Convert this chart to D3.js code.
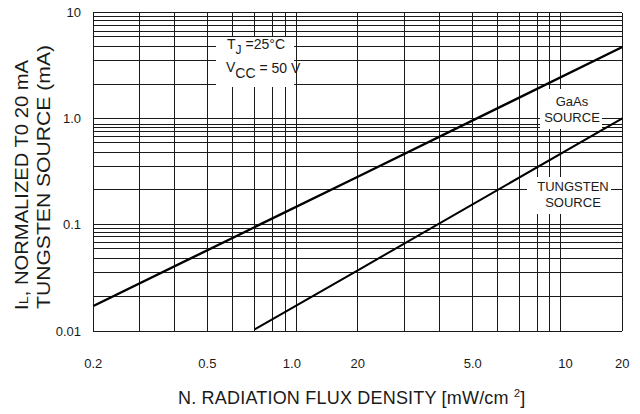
<!DOCTYPE html>
<html>
<head>
<meta charset="utf-8">
<script src="https://cdn.jsdelivr.net/npm/d3@7"></script>
<style>
  html, body { margin: 0; padding: 0; background: #fff; }
  svg { display: block; font-family: Arial, "Liberation Sans", sans-serif; }
</style>
</head>
<body>
<svg id="chart" width="640" height="414"></svg>
<script>
// ---- data ----
const xGridValues = [0.2, 0.3, 0.406, 0.54, 0.671, 0.815, 0.953, 1.064, 1.168,
                     2, 3.0, 4.08, 5.44, 6.75, 8.17, 9.58, 10.64, 11.71, 20];
const yGridValues = [0.01, 0.0212, 0.0354, 0.048, 0.0601, 0.0689, 0.0773, 0.0851, 0.0927,
                     0.1, 0.213, 0.352, 0.478, 0.593, 0.676, 0.753, 0.822, 0.885,
                     1, 2.10, 3.54, 4.80, 5.90, 6.64, 7.50, 8.49, 9.25, 10];
const xTickValues = [0.2, 0.54, 1.127, 2, 5.44, 12.2, 20];
const xTickLabels = ["0.2", "0.5", "1.0", "20", "5.0", "10", "20"];
const yTickValues = [0.01, 0.1, 1, 10];
const yTickLabels = ["0.01", "0.1", "1.0", "10"];

const gaasFlux = [0.2, 2, 20];
const gaasCurrent = [0.0172, 0.284, 4.73];
const tungstenFlux = [0.815, 2, 20];
const tungstenCurrent = [0.01038, 0.0373, 1.007];

// ---- layout ----
const svg = d3.select("#chart");
const plotLeft = 93.3, plotRight = 622.3, plotTop = 12.5, plotBottom = 331;

const x = d3.scaleLog().domain([0.2, 20]).range([plotLeft, plotRight]);
const y = d3.scaleLog().domain([0.01, 10]).range([plotBottom, plotTop]);

svg.append("rect").attr("width", 640).attr("height", 414).attr("fill", "#fff");

const grid = svg.append("g").attr("stroke", "#1a1a1a").attr("stroke-width", 1).attr("shape-rendering", "crispEdges");
grid.selectAll("line.v").data(xGridValues).join("line")
  .attr("class", "v")
  .attr("x1", d => x(d)).attr("x2", d => x(d))
  .attr("y1", y(10)).attr("y2", y(0.01));
grid.selectAll("line.h").data(yGridValues).join("line")
  .attr("class", "h")
  .attr("x1", x(0.2)).attr("x2", x(20))
  .attr("y1", d => y(d)).attr("y2", d => y(d));

// curves
const line = d3.line().x(d => x(d[0])).y(d => y(d[1]));
svg.append("path")
  .attr("d", line(gaasFlux.map((f, i) => [f, gaasCurrent[i]])))
  .attr("fill", "none").attr("stroke", "#000").attr("stroke-width", 2.4);
svg.append("path")
  .attr("d", line(tungstenFlux.map((f, i) => [f, tungstenCurrent[i]])))
  .attr("fill", "none").attr("stroke", "#000").attr("stroke-width", 2);

// annotation boxes (white masks over grid)
svg.append("rect").attr("x", 216).attr("y", 37).attr("width", 78).attr("height", 50).attr("fill", "#fff");
svg.append("rect").attr("x", 540).attr("y", 89).attr("width", 62).attr("height", 40).attr("fill", "#fff");
svg.append("rect").attr("x", 527).attr("y", 177).attr("width", 84).attr("height", 37).attr("fill", "#fff");
// keep the vertical gridline at 1.168 visible through the TJ box
svg.append("line").attr("x1", x(1.168)).attr("x2", x(1.168)).attr("y1", 37).attr("y2", 87)
  .attr("stroke", "#1a1a1a").attr("shape-rendering", "crispEdges");

// ---- text ----
const txt = svg.append("g").attr("fill", "#1a1a1a");

// condition annotation
const t1 = txt.append("text").attr("x", 227).attr("y", 49).attr("font-size", 14);
t1.append("tspan").text("T");
t1.append("tspan").attr("font-size", 12).attr("dy", 5).text("J");
t1.append("tspan").attr("dy", -5).attr("dx", 4).text("=25°C");
const t2 = txt.append("text").attr("x", 226).attr("y", 72).attr("font-size", 14);
t2.append("tspan").text("V");
t2.append("tspan").attr("dy", 6).attr("font-size", 14).text("CC");
t2.append("tspan").attr("dy", -5).text(" = 50 V");

// series labels
txt.append("text").attr("x", 572).attr("y", 106).attr("font-size", 13).attr("text-anchor", "middle").text("GaAs");
txt.append("text").attr("x", 572).attr("y", 122).attr("font-size", 13).attr("text-anchor", "middle").text("SOURCE");
txt.append("text").attr("x", 573).attr("y", 191).attr("font-size", 13).attr("text-anchor", "middle").text("TUNGSTEN");
txt.append("text").attr("x", 573).attr("y", 207).attr("font-size", 13).attr("text-anchor", "middle").text("SOURCE");

// tick labels
txt.selectAll("text.xt").data(xTickValues).join("text")
  .attr("class", "xt")
  .attr("x", d => x(d)).attr("y", 368)
  .attr("font-size", 13).attr("text-anchor", "middle")
  .text((d, i) => xTickLabels[i]);
txt.selectAll("text.yt").data(yTickValues).join("text")
  .attr("class", "yt")
  .attr("x", 81).attr("y", d => y(d) + 4.5)
  .attr("font-size", 13).attr("text-anchor", "end")
  .text((d, i) => yTickLabels[i]);

// axis titles
const xt = txt.append("text").attr("x", 178).attr("y", 404).attr("font-size", 18)
  .attr("letter-spacing", 0.2);
xt.append("tspan").text("N. RADIATION FLUX DENSITY [mW/cm ");
xt.append("tspan").attr("dy", -7).attr("font-size", 11).text("2");
xt.append("tspan").attr("dy", 7).text("]");

const yt1 = txt.append("text").attr("transform", "translate(28,185) rotate(-90)")
  .attr("font-size", 18).attr("text-anchor", "middle")
  .attr("textLength", 250).attr("lengthAdjust", "spacingAndGlyphs");
yt1.append("tspan").text("I");
yt1.append("tspan").attr("font-size", 13).text("L");
yt1.append("tspan").text(", NORMALIZED T0 20 mA");
txt.append("text").attr("transform", "translate(50,177) rotate(-90)")
  .attr("font-size", 18).attr("text-anchor", "middle")
  .attr("textLength", 264).attr("lengthAdjust", "spacingAndGlyphs")
  .text("TUNGSTEN SOURCE (mA)");
</script>
</body>
</html>
